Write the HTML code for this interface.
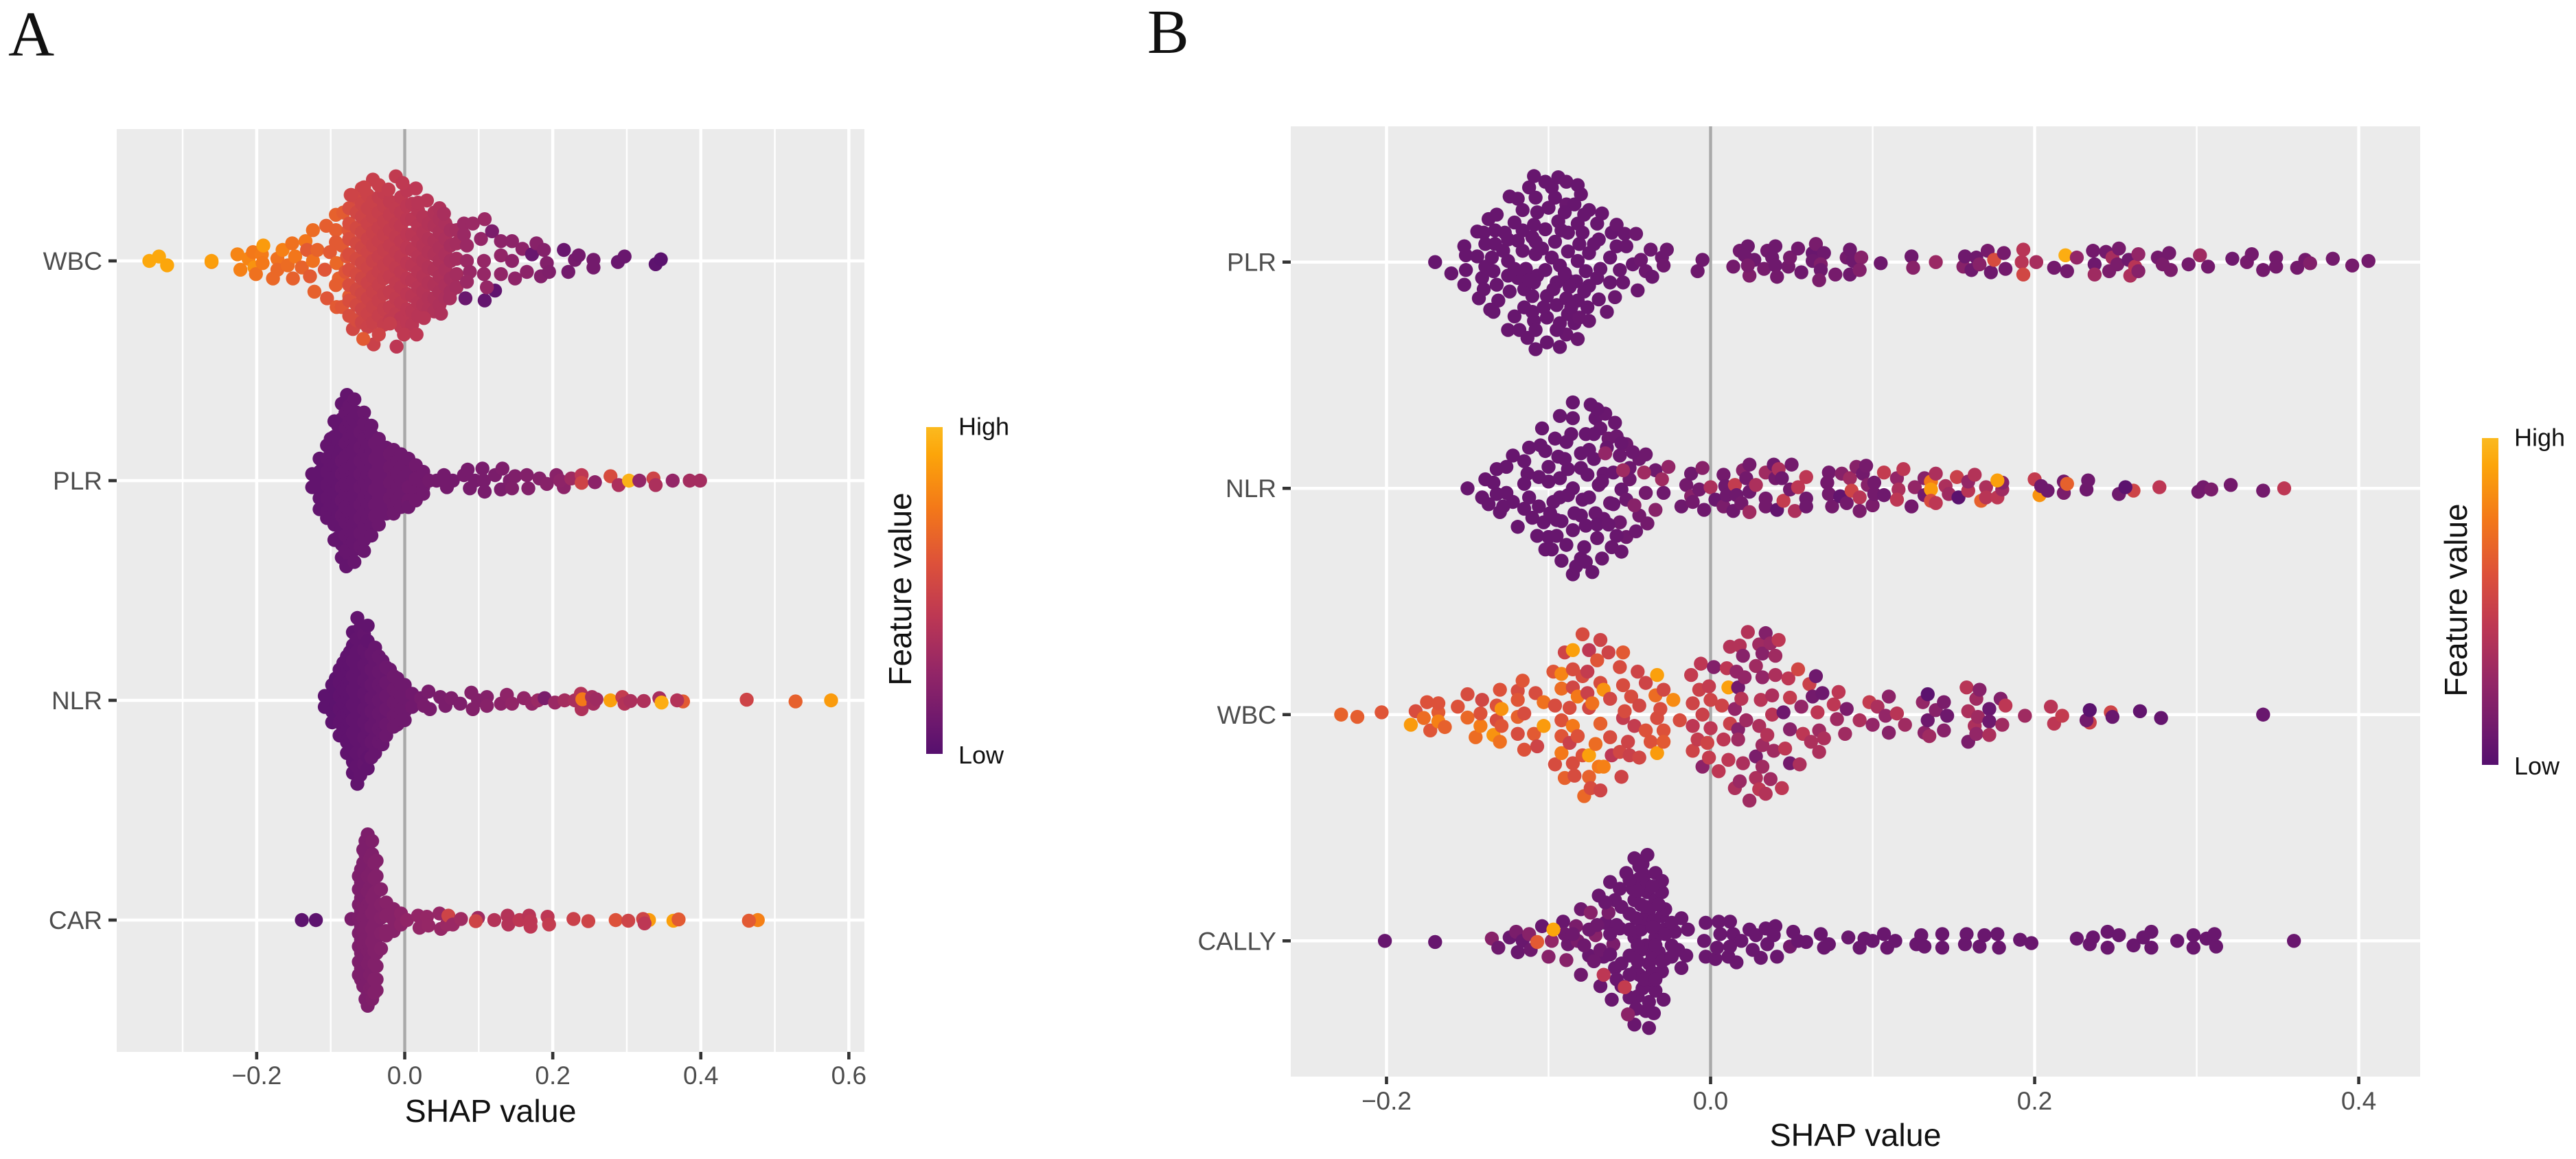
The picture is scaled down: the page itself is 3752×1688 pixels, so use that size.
<!DOCTYPE html>
<html lang="en">
<head>
<meta charset="utf-8">
<title>SHAP beeswarm panels A and B</title>
<style>
html,body{margin:0;padding:0;background:#fff;width:3752px;height:1688px;overflow:hidden}
svg{display:block}
text{font-family:"Liberation Sans",sans-serif}
</style>
</head>
<body>
<svg id="chart" xmlns="http://www.w3.org/2000/svg" width="3752" height="1688" viewBox="0 0 3752 1688">
<defs>
<linearGradient id="legend-gradient" x1="0" y1="1" x2="0" y2="0">
<stop offset="0" stop-color="#56106e"/>
<stop offset=".083" stop-color="#6a176e"/>
<stop offset=".25" stop-color="#932667"/>
<stop offset=".417" stop-color="#bc3754"/>
<stop offset=".583" stop-color="#dd513a"/>
<stop offset=".75" stop-color="#f37819"/>
<stop offset=".917" stop-color="#fca50a"/>
<stop offset="1" stop-color="#fbba1f"/>
</linearGradient>
</defs>
<text x="12" y="81" font-size="93" style="font-family:'Liberation Serif',serif" fill="#111">A</text>
<text x="1671" y="77" font-size="91" style="font-family:'Liberation Serif',serif" fill="#111">B</text>
</svg>
<script>
const panelAFeatures = ['WBC','PLR','NLR','CAR'];
const panelAMajorTicks = [-.2,0,.2,.4,.6];
const panelAMinorTicks = [-.3,-.1,.1,.3,.5];
const panelBFeatures = ['PLR','NLR','WBC','CALLY'];
const panelBMajorTicks = [-.2,0,.2,.4];
const panelBMinorTicks = [-.1,.1,.3];
const colorStops = [0,.083,.25,.417,.583,.75,.917,1];
const colorValues = [[86,16,110],[106,23,110],[147,38,103],[188,55,84],[221,81,58],[243,120,25],[252,165,10],[251,186,31]];

/* each point: [SHAP value, swarm jitter in row units, feature value 0-1] */
const aWbc = [
[-.345,0,.93],[-.332,.02,.93],[-.321,-.02,.92],[-.261,-.005,.84],[-.261,0,.89],[-.226,.03,.8],[-.222,-.04,.78],[-.211,.01,.8],[-.203,-.03,.85],[-.201,-.06,.72],[-.205,.04,.75],[-.193,.03,.76],[-.191,.07,.88],[-.192,-.01,.75],[-.172,.01,.72],[-.172,-.04,.68],[-.178,-.08,.68],[-.165,.05,.78],[-.158,-.02,.7],[-.151,-.08,.65],[-.152,.08,.72],[-.148,.02,.74],[-.139,-.03,.66],[-.134,.09,.74],[-.132,.05,.62],[-.128,-.07,.62],[-.124,0,.72],[-.124,.14,.7],[-.118,.05,.66],[-.122,-.14,.65],[-.108,-.04,.6],[-.106,.16,.64],[-.105,-.17,.6],[-.101,.04,.62],[-.093,.21,.65],[-.093,.14,.64],[-.092,-.01,.68],[-.093,.085,.62],[-.089,-.08,.65],[-.093,-.11,.64],[-.092,-.21,.62],[-.083,.22,.63],[-.085,-.21,.6],[-.085,.07,.62],[-.076,.14,.6],[-.075,-.16,.62],[-.073,.3,.52],[-.07,-.31,.52],[-.078,.02,.6],[-.08,-.05,.6],
[-.075,.24,.55],[-.075,.17,.56],[-.075,.1,.56],[-.075,.03,.56],[-.075,-.04,.56],[-.075,-.11,.56],[-.075,-.18,.56],[-.075,-.25,.55],
[-.065,.29,.52],[-.065,.22,.52],[-.065,.15,.53],[-.065,.08,.53],[-.065,.01,.54],[-.065,-.06,.54],[-.065,-.13,.53],[-.065,-.2,.53],[-.065,-.27,.55],
[-.058,.33,.5],[-.058,.26,.5],[-.058,.2,.5],[-.058,.13,.51],[-.058,.06,.51],[-.058,-.01,.51],[-.058,-.08,.51],[-.058,-.15,.51],[-.058,-.22,.5],[-.058,-.28,.5],
[-.05,.3,.49],[-.05,.24,.48],[-.05,.17,.49],[-.05,.1,.49],[-.05,.04,.5],[-.05,-.03,.5],[-.05,-.1,.49],[-.05,-.17,.49],[-.05,-.24,.49],[-.05,-.3,.49],
[-.043,.27,.48],[-.043,.2,.48],[-.043,.13,.48],[-.043,.07,.48],[-.043,0,.48],[-.043,-.07,.48],[-.043,-.14,.48],[-.043,-.21,.48],[-.043,-.28,.48],
[-.035,.29,.46],[-.035,.22,.47],[-.035,.15,.47],[-.035,.09,.47],[-.035,.02,.47],[-.035,-.05,.47],[-.035,-.11,.47],[-.035,-.18,.47],[-.035,-.25,.47],
[-.028,.31,.45],[-.028,.25,.46],[-.028,.18,.46],[-.028,.12,.46],[-.028,.05,.46],[-.028,-.02,.46],[-.028,-.08,.46],[-.028,-.15,.46],[-.028,-.22,.46],[-.028,-.29,.46],
[-.02,.27,.44],[-.02,.21,.45],[-.02,.14,.45],[-.02,.07,.45],[-.02,0,.45],[-.02,-.07,.45],[-.02,-.14,.45],[-.02,-.21,.45],[-.02,-.27,.44],
[-.012,.24,.44],[-.012,.17,.44],[-.012,.11,.44],[-.012,.04,.44],[-.012,-.03,.44],[-.012,-.1,.44],[-.012,-.17,.44],[-.012,-.24,.44],
[-.005,.29,.43],[-.005,.22,.43],[-.005,.16,.43],[-.005,.09,.43],[-.005,.02,.43],[-.005,-.05,.43],[-.005,-.12,.43],[-.005,-.19,.43],[-.005,-.26,.42],[-.005,-.3,.43],
[.003,.32,.42],[.003,.25,.42],[.003,.19,.42],[.003,.12,.42],[.003,.06,.42],[.003,-.01,.42],[.003,-.08,.42],[.003,-.15,.42],[.003,-.22,.42],[.003,-.28,.42],
[.01,.26,.41],[.01,.19,.41],[.01,.12,.41],[.01,.05,.41],[.01,-.02,.41],[.01,-.09,.41],[.01,-.16,.41],[.01,-.23,.41],[.01,-.29,.41],
[.018,.23,.4],[.018,.16,.4],[.018,.09,.4],[.018,.02,.4],[.018,-.05,.4],[.018,-.12,.4],[.018,-.19,.4],[.018,-.25,.4],
[.025,.2,.39],[.025,.13,.39],[.025,.07,.39],[.025,0,.39],[.025,-.07,.39],[.025,-.14,.39],[.025,-.2,.39],
[.032,.17,.38],[.032,.1,.38],[.032,.04,.38],[.032,-.03,.38],[.032,-.1,.38],[.032,-.17,.38],[.032,-.22,.38],
[.04,.22,.37],[.04,.16,.37],[.04,.09,.37],[.04,.03,.37],[.04,-.04,.37],[.04,-.11,.37],[.04,-.17,.37],[.04,-.23,.37],
[.047,.19,.36],[.047,.13,.36],[.047,.06,.36],[.047,0,.36],[.047,-.07,.36],[.047,-.14,.36],[.047,-.2,.36],
[.055,.17,.35],[.055,.1,.35],[.055,.03,.35],[.055,-.04,.35],[.055,-.11,.35],[.055,-.17,.35],
[.062,.14,.33],[.062,.07,.33],[.062,0,.33],[.062,-.08,.33],[.062,-.14,.33],
[.07,.14,.32],[.07,.08,.32],[.07,.01,.32],[.07,-.06,.32],[.07,-.12,.32],
[-.043,.37,.47],[-.012,.385,.44],[-.003,.355,.43],[-.035,.345,.47],[-.055,.335,.49],[.015,.33,.42],[-.072,.3,.5],[-.022,.325,.45],[-.011,-.39,.42],[-.042,-.38,.48],[-.056,-.355,.62],[-.035,-.335,.5],[-.001,-.335,.43],[.016,-.335,.42],[-.02,-.285,.46],[.026,-.26,.4],[.03,.275,.4],[.018,.265,.4],[.047,.24,.36],[.053,.215,.34],[.049,-.24,.36],[.061,-.17,.33],[.082,-.17,.08],[.108,-.18,.06],[.122,-.135,.04],
[.08,.17,.28],[.092,.17,.28],[.108,.19,.28],[.08,.12,.28],[.084,.07,.28],[.103,.1,.25],[.118,.135,.15],[.13,.09,.22],[.145,.09,.22],[.084,0,.28],[.088,-.05,.27],[.084,-.095,.28],[.107,0,.26],[.107,-.06,.26],[.111,-.12,.26],[.13,.025,.24],[.13,-.06,.24],[.145,0,.22],[.149,-.08,.23],[.159,.055,.22],[.165,-.05,.22],[.172,.03,.08],[.178,.08,.2],[.184,-.07,.18],[.188,.05,.19],[.192,-.01,.18],[.195,-.05,.17],[.215,.05,.08],[.221,-.05,.12],[.23,.005,.13],[.235,.025,.12],[.255,.005,.12],[.255,-.03,.12],[.288,-.005,.08],[.297,.02,.08],[.339,-.015,.03],[.346,.007,.02]
];
const aPlr = [
[-.125,.03,.05],[-.125,-.03,.05],
[-.115,.1,.05],[-.115,.04,.05],[-.115,-.02,.05],[-.115,-.08,.05],[-.115,-.13,.05],
[-.11,.07,.05],[-.11,.01,.05],[-.11,-.05,.05],[-.11,-.11,.05],
[-.105,.16,.06],[-.105,.1,.06],[-.105,.04,.06],[-.105,-.02,.06],[-.105,-.08,.06],[-.105,-.14,.06],[-.105,-.17,.06],
[-.1,.19,.06],[-.1,.13,.06],[-.1,.07,.06],[-.1,.01,.06],[-.1,-.05,.06],[-.1,-.11,.06],[-.1,-.17,.06],
[-.095,.27,.06],[-.095,.2,.06],[-.095,.13,.06],[-.095,.07,.06],[-.095,0,.06],[-.095,-.06,.06],[-.095,-.13,.06],[-.095,-.2,.06],[-.095,-.27,.06],
[-.09,.25,.06],[-.09,.18,.06],[-.09,.11,.06],[-.09,.05,.06],[-.09,-.02,.06],[-.09,-.08,.06],[-.09,-.15,.06],[-.09,-.2,.06],[-.09,-.26,.06],
[-.085,.35,.06],[-.085,.28,.06],[-.085,.22,.06],[-.085,.15,.06],[-.085,.09,.07],[-.085,.03,.07],[-.085,-.03,.07],[-.085,-.09,.07],[-.085,-.16,.07],[-.085,-.22,.06],[-.085,-.29,.06],[-.085,-.35,.06],
[-.08,.31,.07],[-.08,.24,.07],[-.08,.17,.07],[-.08,.11,.07],[-.08,.05,.07],[-.08,-.01,.07],[-.08,-.06,.07],[-.08,-.12,.07],[-.08,-.19,.07],[-.08,-.25,.07],[-.08,-.32,.07],
[-.078,.39,.06],[-.075,.34,.07],[-.075,.27,.07],[-.075,.2,.07],[-.075,.13,.07],[-.075,.06,.07],[-.075,-.01,.07],[-.075,-.07,.07],[-.075,-.14,.07],[-.075,-.21,.07],[-.075,-.27,.07],[-.075,-.34,.07],[-.079,-.39,.06],
[-.07,.28,.07],[-.07,.21,.07],[-.07,.14,.07],[-.07,.07,.07],[-.07,0,.07],[-.07,-.07,.07],[-.07,-.14,.07],[-.07,-.2,.07],[-.07,-.28,.07],
[-.068,.37,.07],[-.065,.31,.07],[-.065,.24,.07],[-.065,.17,.07],[-.065,.1,.07],[-.065,.04,.07],[-.065,-.04,.07],[-.065,-.1,.07],[-.065,-.17,.07],[-.065,-.24,.07],[-.065,-.31,.07],[-.068,-.37,.07],
[-.06,.22,.08],[-.06,.15,.08],[-.06,.09,.08],[-.06,.03,.08],[-.06,-.03,.08],[-.06,-.11,.08],[-.06,-.17,.08],[-.06,-.24,.08],[-.06,-.3,.08],
[-.055,.31,.08],[-.055,.26,.08],[-.055,.19,.08],[-.055,.12,.08],[-.055,.06,.08],[-.055,-.01,.08],[-.055,-.08,.08],[-.055,-.14,.08],[-.055,-.21,.08],[-.055,-.27,.08],[-.055,-.32,.08],
[-.05,.16,.08],[-.05,.1,.08],[-.05,.03,.08],[-.05,-.04,.08],[-.05,-.11,.08],[-.05,-.17,.08],
[-.045,.25,.08],[-.045,.21,.08],[-.045,.14,.08],[-.045,.07,.08],[-.045,0,.08],[-.045,-.07,.08],[-.045,-.13,.08],[-.045,-.2,.08],[-.045,-.25,.08],
[-.04,.17,.09],[-.04,.1,.09],[-.04,.03,.09],[-.04,-.04,.09],[-.04,-.11,.09],[-.04,-.16,.09],
[-.035,.19,.09],[-.035,.13,.09],[-.035,.06,.09],[-.035,-.01,.09],[-.035,-.08,.09],[-.035,-.15,.09],[-.035,-.2,.09],
[-.025,.15,.09],[-.025,.1,.09],[-.025,.03,.09],[-.025,-.04,.09],[-.025,-.1,.09],[-.025,-.15,.09],
[-.02,.12,.1],[-.02,.06,.1],[-.02,-.01,.1],[-.02,-.08,.1],
[-.015,.14,.1],[-.015,.08,.1],[-.015,.02,.1],[-.015,-.05,.1],[-.015,-.11,.1],[-.015,-.15,.1],
[-.01,.09,.1],[-.01,.03,.1],[-.01,-.03,.1],[-.01,-.09,.1],
[-.005,.12,.1],[-.005,.06,.1],[-.005,0,.1],[-.005,-.06,.1],[-.005,-.12,.1],
[0,.07,.1],[0,.02,.1],[0,-.04,.1],[0,-.09,.1],
[.005,.1,.1],[.005,.04,.1],[.005,-.03,.11],[.005,-.09,.11],[.005,-.12,.1],
[.015,.07,.11],[.015,.01,.11],[.015,-.05,.11],[.015,-.09,.11],
[.025,.04,.11],[.025,-.03,.11],[.025,-.06,.11],[.033,0,.12],
[.043,0,.12],[.053,.025,.12],[.057,-.03,.12],[.065,0,.12],[.08,.025,.13],[.085,.05,.13],[.088,-.035,.13],[.095,0,.13],[.105,.055,.14],[.107,0,.14],[.108,-.05,.14],[.122,.025,.15],[.132,.055,.16],[.13,-.04,.15],[.142,0,.16],[.149,.02,.17],[.145,-.035,.17],[.165,.025,.18],[.167,-.035,.18],[.182,.01,.19],[.192,-.015,.2],[.205,.025,.21],[.215,-.03,.22],[.21,0,.23],[.225,.01,.3],[.239,.025,.42],[.239,-.01,.5],[.257,-.007,.22],[.278,.02,.55],[.289,-.02,.35],[.303,0,.97],[.317,0,.25],[.336,.01,.5],[.339,-.02,.35],[.362,0,.25],[.385,0,.32],[.399,0,.32]
];
const aNlr = [
[-.108,.02,.03],[-.108,-.03,.03],
[-.098,.07,.03],[-.098,.01,.03],[-.098,-.05,.03],[-.098,-.1,.03],
[-.093,.1,.03],[-.093,.04,.03],[-.093,-.02,.03],[-.093,-.07,.03],
[-.088,.14,.04],[-.088,.08,.04],[-.088,.02,.04],[-.088,-.04,.04],[-.088,-.1,.04],[-.088,-.16,.04],
[-.083,.17,.04],[-.083,.11,.04],[-.083,.05,.04],[-.083,-.01,.04],[-.083,-.07,.04],[-.083,-.13,.04],
[-.078,.2,.04],[-.078,.14,.04],[-.078,.07,.04],[-.078,.01,.04],[-.078,-.06,.04],[-.078,-.12,.04],[-.078,-.19,.04],[-.078,-.24,.04],
[-.074,.22,.04],[-.074,.16,.04],[-.074,.09,.04],[-.074,.03,.04],[-.074,-.04,.04],[-.074,-.1,.04],[-.074,-.17,.04],[-.074,-.22,.04],
[-.07,.31,.04],[-.07,.25,.04],[-.07,.18,.05],[-.07,.11,.05],[-.07,.05,.05],[-.07,-.02,.05],[-.07,-.09,.05],[-.07,-.15,.05],[-.07,-.22,.04],[-.07,-.28,.04],[-.07,-.33,.04],
[-.065,.28,.05],[-.065,.22,.05],[-.065,.15,.05],[-.065,.08,.05],[-.065,.02,.05],[-.065,-.04,.05],[-.065,-.11,.05],[-.065,-.18,.05],[-.065,-.24,.05],[-.065,-.3,.05],
[-.064,.375,.05],[-.06,.33,.05],[-.06,.26,.05],[-.06,.19,.05],[-.06,.12,.05],[-.06,.06,.05],[-.06,-.01,.05],[-.06,-.07,.05],[-.06,-.14,.05],[-.06,-.21,.05],[-.06,-.27,.05],[-.06,-.34,.05],[-.064,-.38,.05],
[-.055,.3,.06],[-.055,.23,.06],[-.055,.16,.06],[-.055,.09,.06],[-.055,.03,.06],[-.055,-.04,.06],[-.055,-.1,.06],[-.055,-.17,.06],[-.055,-.24,.06],[-.055,-.29,.06],
[-.05,.34,.05],[-.05,.27,.05],[-.05,.2,.06],[-.05,.13,.06],[-.05,.07,.06],[-.05,0,.06],[-.05,-.06,.06],[-.05,-.13,.06],[-.05,-.2,.06],[-.05,-.26,.05],[-.05,-.31,.05],
[-.045,.21,.07],[-.045,.14,.07],[-.045,.07,.07],[-.045,.01,.07],[-.045,-.05,.07],[-.045,-.12,.07],[-.045,-.19,.07],[-.045,-.26,.07],
[-.04,.24,.07],[-.04,.17,.07],[-.04,.1,.07],[-.04,.04,.07],[-.04,-.03,.07],[-.04,-.1,.07],[-.04,-.17,.07],[-.04,-.24,.07],
[-.035,.2,.08],[-.035,.13,.08],[-.035,.07,.08],[-.035,0,.08],[-.035,-.06,.08],[-.035,-.13,.08],[-.035,-.19,.08],
[-.03,.18,.08],[-.03,.11,.08],[-.03,.05,.08],[-.03,-.02,.08],[-.03,-.09,.08],[-.03,-.15,.08],[-.03,-.2,.08],
[-.025,.15,.09],[-.025,.08,.09],[-.025,.02,.09],[-.025,-.04,.09],[-.025,-.11,.09],[-.025,-.16,.09],
[-.02,.14,.09],[-.02,.08,.09],[-.02,.01,.09],[-.02,-.05,.09],[-.02,-.12,.09],
[-.015,.11,.1],[-.015,.05,.1],[-.015,-.01,.1],[-.015,-.07,.1],[-.015,-.12,.1],
[-.01,.1,.1],[-.01,.04,.1],[-.01,-.02,.1],[-.01,-.08,.1],[-.01,-.11,.1],
[-.005,.07,.1],[-.005,.02,.1],[-.005,-.04,.1],[-.005,-.09,.1],
[0,.07,.1],[0,.01,.1],[0,-.05,.1],[0,-.09,.1],
[.01,.03,.11],[.01,-.03,.11],
[.022,.01,.13],[.032,.04,.14],[.034,-.04,.14],[.026,-.025,.14],[.048,.015,.15],[.055,-.025,.15],[.063,.01,.16],[.075,-.015,.16],[.09,.035,.18],[.092,-.04,.18],[.099,0,.18],[.111,.015,.19],[.111,-.025,.2],[.13,-.015,.22],[.138,.025,.23],[.145,-.015,.24],[.161,.01,.24],[.172,-.015,.25],[.18,0,.28],[.189,.01,.15],[.203,-.01,.28],[.216,0,.32],[.23,0,.34],[.238,.03,.38],[.239,-.04,.36],[.24,.005,.75],[.253,.015,.32],[.255,-.015,.32],[.259,.005,.3],[.278,0,.9],[.294,.015,.45],[.297,-.015,.38],[.305,-.003,.35],[.323,-.003,.36],[.344,.01,.33],[.347,-.01,.95],[.376,-.005,.62],[.368,0,.38],[.462,.003,.5],[.528,-.005,.65],[.576,0,.88]
];
const aCar = [
[-.139,0,.03],[-.12,0,.03],[-.072,.005,.15],
[-.062,.2,.16],[-.062,.14,.16],[-.062,.07,.16],[-.062,.01,.16],[-.062,-.06,.16],[-.062,-.12,.16],[-.062,-.19,.16],[-.062,-.25,.16],
[-.059,.23,.16],[-.059,.17,.16],[-.059,.1,.16],[-.059,.04,.16],[-.059,-.03,.16],[-.059,-.09,.16],[-.059,-.15,.16],[-.059,-.22,.16],[-.059,-.27,.16],
[-.056,.32,.16],[-.056,.26,.16],[-.056,.2,.16],[-.056,.13,.16],[-.056,.07,.17],[-.056,.01,.17],[-.056,-.05,.17],[-.056,-.11,.17],[-.056,-.18,.16],[-.056,-.24,.16],[-.056,-.3,.16],
[-.053,.36,.16],[-.053,.3,.16],[-.053,.23,.16],[-.053,.16,.16],[-.053,.1,.16],[-.053,.04,.17],[-.053,-.03,.17],[-.053,-.09,.17],[-.053,-.16,.16],[-.053,-.23,.16],[-.053,-.3,.16],[-.053,-.36,.16],
[-.05,.39,.16],[-.05,.33,.16],[-.05,.27,.16],[-.05,.2,.17],[-.05,.13,.17],[-.05,.07,.17],[-.05,0,.17],[-.05,-.07,.17],[-.05,-.14,.17],[-.05,-.2,.17],[-.05,-.27,.16],[-.05,-.33,.16],[-.05,-.39,.16],
[-.047,.28,.17],[-.047,.21,.17],[-.047,.15,.17],[-.047,.08,.17],[-.047,.02,.17],[-.047,-.05,.17],[-.047,-.12,.17],[-.047,-.18,.17],[-.047,-.25,.17],[-.047,-.31,.17],
[-.044,.36,.17],[-.044,.3,.17],[-.044,.23,.17],[-.044,.16,.17],[-.044,.1,.18],[-.044,.03,.18],[-.044,-.04,.18],[-.044,-.1,.18],[-.044,-.17,.17],[-.044,-.23,.17],[-.044,-.3,.17],[-.044,-.36,.17],
[-.041,.26,.18],[-.041,.19,.18],[-.041,.12,.18],[-.041,.05,.18],[-.041,-.02,.18],[-.041,-.07,.18],[-.041,-.14,.18],[-.041,-.2,.18],[-.041,-.27,.18],[-.041,-.33,.18],
[-.038,.27,.18],[-.038,.2,.18],[-.038,.13,.18],[-.038,.06,.18],[-.038,-.01,.18],[-.038,-.08,.18],[-.038,-.15,.18],[-.038,-.21,.18],[-.038,-.27,.18],[-.038,-.32,.18],
[-.032,.14,.19],[-.032,.07,.19],[-.032,.01,.19],[-.032,-.06,.19],[-.032,-.13,.19],
[-.025,.08,.2],[-.025,.02,.2],[-.025,-.05,.2],[-.025,-.07,.2],
[-.015,.05,.2],[-.015,0,.2],[-.015,-.05,.2],
[-.005,.03,.22],[-.005,-.02,.22],
[.003,0,.24],[.018,.02,.25],[.02,-.035,.25],[.03,.015,.26],[.032,-.025,.26],[.047,.03,.26],[.049,-.04,.26],[.057,-.02,.28],[.059,.02,.5],[.065,-.02,.28],[.076,.005,.3],[.099,.01,.3],[.096,-.005,.5],[.121,0,.38],[.139,.02,.38],[.14,-.02,.38],[.155,0,.42],[.168,.02,.4],[.17,-.005,.42],[.17,-.03,.42],[.193,.015,.42],[.195,-.02,.45],[.228,.005,.48],[.248,-.005,.5],[.285,0,.58],[.302,-.003,.5],[.33,0,.88],[.322,.005,.5],[.324,-.015,.42],[.363,-.003,.9],[.37,.003,.62],[.477,0,.78],[.465,-.003,.62]
];
const bPlr = [
[-.17,0,.07],[-.16,-.05,.07],[-.152,.07,.07],[-.151,.03,.07],[-.151,-.035,.07],[-.152,-.1,.07],[-.144,.025,.07],[-.143,-.16,.07],[-.144,.135,.07],[-.14,.13,.07],[-.141,-.07,.07],[-.139,.08,.07],[-.139,-.02,.07],[-.14,-.12,.07],[-.137,.19,.07],[-.136,-.21,.07],[-.132,.21,.07],[-.133,.14,.07],[-.133,.08,.07],[-.135,.02,.07],[-.134,-.04,.07],[-.132,-.1,.07],[-.131,-.17,.07],[-.134,-.22,.07],[-.127,.13,.07],[-.124,.29,.07],[-.125,.005,.07],[-.124,-.13,.07],[-.125,-.3,.07],[-.121,.175,.07],[-.119,.095,.07],[-.119,-.07,.07],[-.121,-.24,.07],[-.119,.28,.07],[-.118,-.3,.07],[-.116,.23,.07],[-.114,-.03,.07],[-.115,-.12,.07],[-.115,-.2,.07],[-.113,-.335,.07],[-.112,.33,.07],[-.109,.38,.07],[-.109,.165,.07],[-.108,.09,.07],[-.108,.035,.07],[-.109,-.09,.07],[-.11,-.15,.07],[-.109,-.26,.07],[-.108,-.3,.07],[-.108,-.385,.07],[-.108,.285,.07],[-.107,.22,.07],[-.102,.355,.07],[-.102,.145,.07],[-.102,-.035,.07],[-.101,-.15,.07],[-.101,-.245,.07],[-.101,-.355,.07],[-.1,.24,.07],[-.094,.375,.07],[-.094,.18,.07],[-.093,-.015,.07],[-.095,-.09,.07],[-.095,-.19,.07],[-.093,-.27,.07],[-.093,-.375,.07],[-.096,.09,.07],[-.096,.285,.07],[-.098,.33,.07],[-.089,.355,.08],[-.089,.255,.08],[-.088,.13,.07],[-.088,.047,.07],[-.088,-.08,.07],[-.089,-.16,.07],[-.088,-.23,.07],[-.089,-.32,.08],[-.082,.34,.07],[-.082,.17,.07],[-.081,.08,.07],[-.082,.005,.07],[-.082,-.17,.07],[-.082,-.34,.08],[-.084,.255,.07],[-.083,-.085,.07],[-.084,-.27,.07],[-.081,-.245,.08],[-.075,.23,.07],[-.075,.04,.07],[-.075,-.105,.07],[-.075,-.26,.08],[-.069,.1,.07],[-.07,.17,.07],[-.069,-.165,.07],[-.067,.215,.07],[-.068,-.03,.07],[-.064,-.22,.08],[-.062,.02,.07],[-.061,.13,.07],[-.062,-.09,.07],[-.059,-.155,.08],[-.058,.165,.08],[-.058,.07,.08],[-.056,-.035,.08],[-.053,.125,.08],[-.052,.07,.08],[-.054,-.09,.08],[-.046,.125,.09],[-.045,-.125,.08],[-.048,-.01,.08],[-.043,.01,.09],[-.04,-.04,.09],[-.037,.055,.09],[-.036,-.065,.08],[-.03,.02,.09],[-.029,-.015,.1],[-.027,.055,.09],[-.008,-.04,.1],[-.005,.01,.1],
[-.125,.1,.07],[-.128,.05,.07],[-.121,-.03,.07],[-.116,.05,.07],[-.11,.11,.07],[-.107,-.06,.07],[-.104,.06,.07],[-.103,-.2,.07],[-.098,.02,.07],[-.097,-.12,.07],[-.092,.14,.07],[-.09,.22,.07],[-.09,-.05,.07],[-.087,-.11,.07],[-.086,-.2,.07],[-.079,.13,.07],[-.078,.21,.07],[-.077,-.04,.07],[-.078,-.13,.07],[-.076,-.2,.07],[-.072,.08,.07],[-.07,-.07,.07],[-.116,.14,.07],[-.11,-.22,.07],[-.08,.3,.07],[-.095,-.3,.07],[-.125,-.06,.07],[-.112,-.08,.07],
[.014,-.02,.12],[.018,.05,.11],[.023,.07,.1],[.021,.03,.1],[.024,-.06,.17],[.027,.01,.1],[.023,-.015,.15],[.033,-.03,.13],[.035,.05,.11],[.04,.07,.1],[.038,.02,.1],[.04,-.015,.1],[.041,-.065,.12],[.048,-.02,.12],[.049,.02,.13],[.054,.06,.11],[.056,-.045,.1],[.063,.04,.08],[.065,.08,.14],[.063,.005,.1],[.07,.04,.1],[.068,-.01,.17],[.068,-.035,.1],[.067,-.08,.15],[.077,-.055,.13],[.084,.02,.12],[.086,.055,.1],[.088,.005,.1],[.086,-.055,.1],[.093,.02,.2],[.092,-.035,.18],[.105,-.005,.1],[.124,.025,.1],[.125,-.025,.2],[.139,0,.28],[.156,-.02,.2],[.157,.025,.1],[.161,-.035,.1],[.164,.02,.1],[.166,-.01,.2],[.171,.05,.13],[.173,-.045,.1],[.175,.01,.55],[.181,.04,.13],[.182,-.03,.12],[.192,0,.4],[.193,.055,.4],[.193,-.055,.52],[.201,0,.33],[.212,-.025,.12],[.219,.03,.95],[.22,-.04,.12],[.226,.02,.25],[.236,.05,.12],[.237,-.01,.1],[.237,-.055,.3],[.244,.045,.12],[.246,-.04,.15],[.248,.02,.33],[.252,.06,.13],[.251,-.01,.15],[.258,.01,.1],[.259,-.06,.35],[.262,-.02,.4],[.264,.035,.25],[.264,-.04,.2],[.276,.02,.12],[.279,-.01,.15],[.283,.04,.12],[.284,-.035,.15],[.295,-.01,.12],[.302,.03,.3],[.307,-.02,.12],[.322,.015,.1],[.331,0,.13],[.334,.035,.12],[.341,-.035,.12],[.349,.02,.12],[.349,-.02,.12],[.362,-.025,.12],[.367,.01,.12],[.37,-.005,.18],[.384,.015,.12],[.396,-.015,.13],[.406,.005,.12]
];
const bNlr = [
[-.15,0,.07],[-.141,-.04,.07],[-.139,.04,.07],[-.137,-.07,.07],[-.132,-.025,.07],[-.132,.085,.07],[-.134,.025,.07],[-.13,-.105,.07],[-.128,-.08,.07],[-.126,.095,.07],[-.126,-.02,.07],[-.122,.145,.07],[-.119,-.17,.07],[-.115,.12,.07],[-.115,-.09,.07],[-.113,.065,.07],[-.112,.18,.07],[-.112,-.04,.07],[-.107,-.21,.07],[-.106,.05,.07],[-.106,-.08,.07],[-.105,.19,.07],[-.104,.265,.07],[-.103,-.15,.07],[-.102,.165,.07],[-.102,-.27,.07],[-.1,-.215,.07],[-.1,.095,.07],[-.099,-.11,.07],[-.098,-.27,.07],[-.096,.22,.07],[-.094,.14,.07],[-.095,-.21,.07],[-.093,.045,.07],[-.093,-.04,.07],[-.092,-.145,.07],[-.092,-.32,.07],[-.093,.32,.07],[-.089,.205,.07],[-.088,.085,.07],[-.089,-.25,.07],[-.085,.38,.07],[-.085,.31,.07],[-.085,0,.07],[-.084,-.11,.07],[-.085,-.185,.07],[-.085,-.38,.07],[-.083,-.345,.07],[-.08,.155,.07],[-.079,-.05,.07],[-.078,-.26,.07],[-.077,.24,.07],[-.076,.06,.07],[-.077,-.165,.07],[-.077,-.325,.07],[-.074,.37,.07],[-.073,-.37,.07],[-.072,.13,.07],[-.071,.31,.07],[-.071,-.11,.08],[-.07,-.22,.08],[-.069,.015,.08],[-.068,.265,.08],[-.067,-.31,.08],[-.066,.065,.08],[-.065,.33,.08],[-.066,-.135,.08],[-.063,.22,.1],[-.062,-.065,.09],[-.061,-.26,.08],[-.059,.29,.08],[-.058,.23,.09],[-.056,.145,.09],[-.055,-.005,.08],[-.056,-.15,.1],[-.055,-.28,.08],[-.052,.195,.1],[-.052,-.215,.1],[-.05,.04,.1],[-.044,.13,.1],[-.044,-.12,.12],[-.04,.15,.1],[-.04,-.02,.12],[-.039,-.155,.12],[-.034,.08,.1],[-.029,-.02,.1],
[-.1,.03,.07],[-.097,-.06,.07],[-.09,.13,.07],[-.088,-.03,.07],[-.086,.24,.07],[-.08,.09,.07],[-.08,-.12,.07],[-.075,-.04,.07],[-.075,.17,.07],[-.072,.24,.07],[-.07,-.16,.07],[-.067,.03,.08],[-.064,.18,.08],[-.063,-.16,.08],[-.06,.07,.08],[-.06,-.07,.08],[-.058,-.21,.08],[-.055,.2,.08],[-.052,-.05,.09],[-.05,.09,.09],[-.115,.02,.07],[-.11,-.13,.07],[-.122,-.06,.07],[-.095,-.14,.07],[-.07,.35,.07],[-.08,-.31,.07],[-.048,.16,.09],[-.046,-.19,.09],
[-.065,.155,.25],[-.054,.08,.3],[-.047,-.075,.2],[-.041,.07,.3],[-.034,-.095,.2],[-.03,.04,.3],[-.026,.095,.25],
[-.018,-.08,.1],[-.015,.015,.12],[-.012,.065,.1],[-.012,-.035,.2],[-.007,-.005,.12],[-.011,-.06,.12],[-.005,.09,.2],[-.004,-.095,.1],[0,.005,.35],[.003,-.05,.08],[.008,.06,.12],[.009,.01,.1],[.008,-.08,.15],[.01,-.03,.1],[.014,-.1,.1],[.015,.015,.45],[.016,-.03,.1],[.02,.08,.2],[.022,.045,.12],[.019,-.065,.12],[.024,.105,.12],[.024,-.015,.1],[.024,-.105,.3],[.028,.015,.35],[.034,.07,.3],[.034,-.045,.12],[.034,-.08,.12],[.039,.105,.1],[.041,-.095,.05],[.04,.045,.12],[.042,.085,.35],[.044,.045,.1],[.045,-.055,.45],[.049,-.005,.12],[.05,.105,.12],[.052,-.1,.35],[.054,.005,.42],[.059,-.045,.1],[.059,-.08,.1],[.059,.05,.42],[.073,.07,.12],[.072,.025,.12],[.073,-.025,.12],[.075,-.08,.12],[.08,-.035,.05],[.081,.065,.2],[.084,-.065,.12],[.086,.045,.3],[.087,-.01,.5],[.09,.095,.2],[.092,-.04,.4],[.092,-.1,.15],[.094,.065,.12],[.097,.015,.2],[.096,.1,.13],[.1,-.075,.15],[.101,.025,.12],[.101,-.025,.12],[.107,-.03,.1],[.107,.07,.45],[.115,.045,.25],[.116,-.005,.35],[.115,-.05,.42],[.119,.085,.42],[.124,-.08,.12],[.126,.005,.25],[.132,.045,.2],[.132,-.03,.12],[.136,.03,.75],[.136,-.005,.88],[.136,-.055,.55],[.139,.065,.35],[.139,-.065,.42],[.145,.01,.35],[.147,-.025,.3],[.152,.05,.48],[.153,-.04,.02],[.159,-.01,.4],[.159,.03,.25],[.163,.06,.38],[.167,-.055,.65],[.17,.005,.35],[.17,-.04,.4],[.177,-.04,.42],[.18,-.005,.3],[.18,.025,.2],[.177,.035,.9],[.2,.04,.45],[.203,-.03,.85],[.204,.01,.1],[.208,-.01,.1],[.218,.03,.12],[.218,-.02,.15],[.22,.02,.65],[.232,-.005,.1],[.233,.035,.1],[.252,-.025,.1],[.261,-.01,.5],[.256,.005,.02],[.277,.005,.42],[.301,-.015,.12],[.304,.005,.12],[.309,-.005,.15],[.321,.015,.12],[.341,-.01,.12],[.354,0,.42]
];
const bWbc = [
[-.228,0,.66],[-.218,-.01,.64],[-.203,.01,.6],[-.185,-.045,.88],[-.182,.015,.56],[-.177,-.015,.7],[-.175,.055,.58],[-.173,-.07,.6],[-.168,.01,.62],[-.168,.05,.58],[-.168,-.03,.78],[-.164,-.055,.65],[-.156,.035,.58],[-.15,.09,.55],[-.15,-.013,.68],[-.145,-.1,.7],[-.142,-.05,.76],[-.142,.005,.58],[-.141,.065,.52],[-.134,-.09,.85],[-.132,.04,.58],[-.132,-.025,.55],[-.13,.11,.58],[-.129,.025,.85],[-.129,-.05,.6],[-.13,-.12,.72],[-.119,.105,.55],[-.119,.065,.6],[-.119,-.01,.65],[-.119,-.085,.55],[-.116,.15,.6],[-.115,-.155,.58],[-.115,.005,.55],[-.109,-.085,.62],[-.108,.095,.55],[-.107,-.14,.5],[-.103,.055,.72],[-.103,-.05,.88],[-.097,.19,.6],[-.096,.04,.55],[-.096,-.22,.55],[-.092,.18,.8],[-.092,.115,.7],[-.092,-.025,.58],[-.092,-.095,.6],[-.092,-.17,.75],[-.09,-.28,.65],[-.09,.275,.5],[-.087,.03,.55],[-.087,-.125,.48],[-.085,.2,.55],[-.085,.285,.9],[-.085,.12,.52],[-.085,-.05,.75],[-.085,-.215,.55],[-.084,-.27,.55],[-.082,.08,.75],[-.082,-.095,.58],[-.079,.355,.55],[-.079,.17,.55],[-.079,-.18,.58],[-.078,-.36,.68],[-.076,.19,.45],[-.076,.095,.48],[-.075,.03,.52],[-.075,-.275,.65],[-.075,.285,.42],[-.075,-.18,.9],[-.074,-.325,.55],[-.073,.05,.72],[-.071,-.13,.7],[-.07,.24,.6],[-.069,-.23,.75],[-.068,.33,.5],[-.068,-.04,.65],[-.068,.14,.55],[-.068,-.335,.5],[-.066,.11,.85],[-.066,-.23,.78],[-.063,.275,.5],[-.062,.07,.52],[-.062,-.1,.55],[-.061,-.18,.42],[-.056,.21,.55],[-.056,-.165,.52],[-.055,-.275,.5],[-.054,.275,.62],[-.054,-.015,.45],[-.054,.13,.55],[-.053,.015,.55],[-.051,-.12,.5],[-.049,.08,.55],[-.05,-.18,.48],[-.047,-.05,.45],[-.045,.19,.5],[-.044,.04,.52],[-.044,-.19,.52],[-.04,.14,.5],[-.04,-.07,.58],[-.037,-.12,.58],[-.034,.085,.7],[-.033,.175,.9],[-.033,-.015,.55],[-.033,-.17,.88],[-.031,.025,.55],[-.029,.11,.52],[-.029,-.07,.58],[-.029,-.12,.62],[-.023,.065,.82],[-.019,-.025,.55],
[-.012,.175,.45],[-.011,.05,.5],[-.011,-.05,.42],[-.011,-.16,.5],[-.008,-.11,.45],[-.007,.11,.48],[-.006,.225,.42],[-.005,0,.48],[-.005,-.23,.22],[-.002,-.125,.5],[-.001,.125,.45],[0,-.06,.42],[0,.065,.5],[-.001,-.19,.45],[.002,.21,.18],[.005,-.25,.42],[.007,.04,.5],[.008,-.11,.42],[.01,.205,.42],[.011,.12,.9],[.012,-.04,.48],[.012,.3,.38],[.011,-.2,.42],[.016,.19,.25],[.017,.12,.12],[.015,.025,.25],[.017,-.065,.2],[.017,-.11,.3],[.018,.305,.38],[.015,-.325,.35],[.019,.07,.4],[.02,.26,.2],[.021,.165,.25],[.02,-.215,.35],[.018,-.295,.28],[.023,.365,.38],[.022,-.025,.3],[.024,-.38,.3],[.028,.215,.3],[.028,-.185,.15],[.028,-.28,.35],[.03,.31,.3],[.03,-.05,.35],[.031,.065,.4],[.032,.165,.25],[.032,.27,.2],[.032,-.135,.3],[.032,-.23,.3],[.03,-.33,.42],[.034,.36,.18],[.035,-.09,.38],[.038,.085,.35],[.037,.315,.28],[.037,-.285,.3],[.038,0,.4],[.034,-.35,.38],[.04,.26,.3],[.04,.175,.35],[.039,-.16,.3],[.042,.33,.42],[.044,-.325,.42],[.045,.01,.1],[.046,-.15,.42],[.048,.16,.42],[.049,-.065,.2],[.049,-.215,.12],[.049,.075,.45],[.054,.2,.52],[.055,-.22,.35],[.056,.035,.25],[.057,-.085,.42],[.061,.135,.48],[.062,-.12,.35],[.063,.08,.12],[.065,.17,.1],[.066,.01,.42],[.067,-.165,.35],[.067,-.07,.3],[.069,.095,.1],[.07,-.105,.35],[.076,.045,.42],[.078,-.02,.3],[.079,.1,.42],[.083,-.085,.3],[.084,.025,.15],[.092,-.025,.35],[.098,.055,.45],[.1,-.045,.25],[.103,.035,.35],[.108,-.005,.25],[.11,.08,.22],[.11,-.08,.2],[.115,.005,.4],[.12,-.045,.3],[.131,.055,.25],[.132,-.08,.22],[.134,.09,.02],[.134,-.025,.1],[.135,-.095,.3],[.139,.02,.2],[.144,.055,.15],[.146,-.005,.1],[.144,-.07,.2],[.158,.12,.4],[.159,.015,.35],[.159,-.12,.15],[.163,-.05,.35],[.164,.07,.3],[.166,.11,.2],[.165,-.01,.3],[.164,-.085,.25],[.172,.025,.08],[.172,-.03,.1],[.172,-.09,.35],[.179,.07,.18],[.18,-.045,.3],[.182,.04,.42],[.194,-.005,.3],[.21,.035,.4],[.212,-.04,.42],[.217,-.005,.45],[.234,-.035,.48],[.232,-.025,.12],[.234,.02,.02],[.247,.01,.5],[.248,-.01,.08],[.265,.015,.05],[.278,-.015,.06],[.341,0,.08]
];
const bCally = [
[-.201,0,.07],[-.17,-.005,.07],[-.135,.01,.2],[-.131,-.03,.1],[-.124,.015,.08],[-.12,.04,.15],[-.119,-.05,.08],[-.116,0,.08],[-.112,.03,.2],[-.111,-.04,.1],[-.104,.065,.08],[-.1,-.07,.2],[-.098,0,.25],[-.091,.085,.08],[-.089,-.085,.2],[-.088,-.015,.1],[-.083,.065,.15],[-.082,0,.15],[-.08,.14,.1],[-.08,-.15,.1],[-.075,-.065,.08],[-.074,.125,.2],[-.071,.025,.2],[-.069,.2,.08],[-.068,-.2,.08],[-.066,-.07,.08],[-.065,.08,.08],[-.063,.125,.15],[-.062,.26,.08],[-.061,-.26,.08],[-.06,-.015,.15],[-.059,.18,.08],[-.059,-.12,.08],[-.056,.23,.08],[-.056,.055,.08],[-.055,-.2,.08],[-.052,.3,.08],[-.05,-.065,.08],[-.05,.12,.08],[-.047,.365,.08],[-.047,-.37,.08],[-.047,.18,.08],[-.047,.015,.08],[-.046,-.135,.08],[-.045,-.245,.08],[-.044,.275,.08],[-.043,-.04,.08],[-.042,.08,.08],[-.042,.34,.08],[-.04,-.31,.08],[-.039,.38,.08],[-.038,-.385,.08],[-.039,.215,.08],[-.038,.135,.08],[-.038,-.1,.08],[-.037,-.175,.08],[-.035,-.32,.08],[-.034,.3,.08],[-.034,.18,.08],[-.034,.015,.08],[-.032,-.05,.08],[-.034,-.22,.08],[-.03,.215,.08],[-.03,.11,.08],[-.03,.265,.08],[-.029,-.26,.08],[-.03,-.135,.08],[-.029,.05,.08],[-.028,-.08,.08],[-.028,.14,.08],[-.043,.05,.08],[-.04,-.02,.08],[-.041,.1,.08],[-.036,-.06,.08],[-.044,-.15,.08],[-.042,-.21,.08],[-.048,.23,.08],[-.04,.25,.08],[-.036,-.14,.08],[-.035,.09,.08],[-.022,.04,.08],[-.018,.1,.08],[-.018,-.12,.08],[-.02,-.04,.08],[-.014,.05,.08],[-.015,-.065,.08],
[-.05,.27,.08],[-.045,.22,.08],[-.043,.16,.08],[-.041,.29,.08],[-.036,.24,.08],[-.032,.16,.08],[-.05,.05,.08],[-.046,.1,.08],[-.04,.15,.08],[-.036,.06,.08],[-.045,-.02,.08],[-.034,-.02,.08],[-.03,-.09,.08],[-.045,-.09,.08],[-.05,-.15,.08],[-.041,-.17,.08],[-.034,-.17,.08],[-.05,-.25,.08],[-.038,-.27,.08],[-.055,-.1,.08],[-.058,.07,.08],[-.062,.03,.08],[-.07,.07,.1],[-.068,-.04,.1],[-.062,-.06,.08],[-.055,.15,.08],[-.065,.17,.08],[-.058,-.17,.08],[-.075,.05,.1],[-.078,-.02,.1],[-.072,-.09,.1],[-.09,.03,.1],[-.085,.03,.1],[-.028,.03,.08],[-.024,-.02,.08],[-.024,.08,.08],[-.024,-.07,.08],[-.046,-.3,.08],[-.044,.33,.08],
[-.107,-.005,.62],[-.097,.05,.92],[-.066,-.15,.42],[-.053,-.205,.45],[-.051,-.325,.22],
[-.003,.08,.08],[-.003,-.07,.08],[-.004,0,.08],[.005,.085,.08],[.003,-.08,.08],[.006,.03,.08],[.004,-.03,.08],[.012,.085,.08],[.011,-.07,.08],[.014,.03,.08],[.016,-.095,.08],[.012,-.025,.08],[.019,0,.08],[.024,.05,.08],[.026,-.04,.08],[.031,-.075,.08],[.028,.025,.08],[.034,.055,.08],[.035,-.015,.08],[.04,.065,.08],[.041,-.07,.08],[.039,.025,.08],[.049,-.025,.12],[.051,.04,.08],[.054,0,.08],[.059,-.005,.08],[.068,.03,.08],[.073,-.015,.08],[.07,-.03,.08],[.085,.015,.08],[.092,-.03,.08],[.095,.01,.08],[.1,0,.08],[.107,.03,.08],[.109,-.03,.08],[.114,0,.08],[.127,-.015,.08],[.13,.025,.08],[.132,-.025,.08],[.143,.03,.08],[.143,-.03,.08],[.158,.03,.08],[.157,-.015,.08],[.166,-.025,.08],[.169,.025,.08],[.177,.03,.08],[.178,-.03,.08],[.191,.005,.08],[.198,-.01,.08],[.226,.01,.08],[.234,-.015,.08],[.236,.015,.08],[.245,.04,.08],[.245,-.03,.08],[.252,.025,.08],[.261,-.02,.08],[.267,.015,.08],[.272,.04,.08],[.272,-.03,.08],[.288,0,.08],[.298,.025,.08],[.298,-.03,.08],[.306,.01,.08],[.311,.03,.08],[.312,-.025,.08],[.36,0,.08]
];
const panelARows = [aWbc,aPlr,aNlr,aCar];
const panelBRows = [bPlr,bNlr,bWbc,bCally];

const NS = 'http://www.w3.org/2000/svg';
const root = document.getElementById('chart');
function make(parent, tag, attrs, txt) {
  const el = document.createElementNS(NS, tag);
  for (const k in attrs) el.setAttribute(k, attrs[k]);
  if (txt !== undefined) el.textContent = txt;
  parent.appendChild(el);
  return el;
}
function featureColor(t) {
  const v = Math.max(0, Math.min(1, t));
  let i = 0;
  while (i < colorStops.length - 2 && v > colorStops[i + 1]) i++;
  const f = (v - colorStops[i]) / (colorStops[i + 1] - colorStops[i]);
  const a = colorValues[i], b = colorValues[i + 1];
  return 'rgb(' + [0,1,2].map(k => Math.round(a[k] + (b[k] - a[k]) * f)).join(',') + ')';
}
function tickText(v) {
  return (v < 0 ? '\u2212' : '') + Math.abs(v).toFixed(1);
}
function drawPanel(cfg, features, rows, major, minor) {
  const g = make(root, 'g', {});
  
  
  const xScale = s => cfg.left + (s - cfg.domain[0]) / (cfg.domain[1] - cfg.domain[0]) * (cfg.right - cfg.left);
  const band = (cfg.bottom - cfg.top) / (features.length - 1 + 1.2);
  const yScale = i => cfg.top + .6 * band + i * band;

  const bg = make(g, 'rect', {x: cfg.left, y: cfg.top, width: cfg.right - cfg.left, height: cfg.bottom - cfg.top, fill: '#ebebeb'});
  
  

  minor.forEach(v => {
    const ln = make(g, 'line', {x1: xScale(v), x2: xScale(v), y1: cfg.top, y2: cfg.bottom, stroke: '#fff', 'stroke-width': 2.4});
    
    
  });
  major.forEach(v => {
    const ln = make(g, 'line', {x1: xScale(v), x2: xScale(v), y1: cfg.top, y2: cfg.bottom, stroke: '#fff', 'stroke-width': 4.5});
    
    
  });
  features.forEach((f, i) => {
    const ln = make(g, 'line', {x1: cfg.left, x2: cfg.right, y1: yScale(i), y2: yScale(i), stroke: '#fff', 'stroke-width': 4.5});
    
    
  });
  const zero = make(g, 'line', {x1: xScale(0), x2: xScale(0), y1: cfg.top, y2: cfg.bottom, stroke: '#a9a9a9', 'stroke-width': 4.5});
  
  

  features.forEach((f, i) => {
    rows[i].forEach(p => {
      const c = make(g, 'circle', {cx: xScale(p[0]), cy: yScale(i) - p[1] * band, r: 10.2, fill: featureColor(p[2])});
      
      
    });
    const tk = make(g, 'line', {x1: cfg.left - 12, x2: cfg.left, y1: yScale(i), y2: yScale(i), stroke: '#333', 'stroke-width': 4.6});
    
    
    const lb = make(g, 'text', {x: cfg.left - 21, y: yScale(i) + 13, 'text-anchor': 'end', 'font-size': 37, fill: '#4d4d4d'}, f);
    
    
  });
  major.forEach(v => {
    const tk = make(g, 'line', {x1: xScale(v), x2: xScale(v), y1: cfg.bottom, y2: cfg.bottom + 11, stroke: '#333', 'stroke-width': 4.6});
    
    
    const lb = make(g, 'text', {x: xScale(v), y: cfg.tickBaseline, 'text-anchor': 'middle', 'font-size': 37, fill: '#4d4d4d'}, tickText(v));
    
    
  });
  const title = make(g, 'text', {x: (cfg.left + cfg.right) / 2, y: cfg.titleBaseline, 'text-anchor': 'middle', 'font-size': 46.5, fill: '#111'}, 'SHAP value');
  
  

  const lg = make(g, 'g', {});
  
  
  const bar = make(lg, 'rect', {x: cfg.barX, y: cfg.barTop, width: 24, height: cfg.barBottom - cfg.barTop, fill: 'url(#legend-gradient)'});
  
  
  const hi = make(lg, 'text', {x: cfg.barX + 47, y: cfg.barTop + 11.5, 'font-size': 36, fill: '#111'}, 'High');
  
  
  const lo = make(lg, 'text', {x: cfg.barX + 47, y: cfg.barBottom + 14, 'font-size': 36, fill: '#111'}, 'Low');
  
  
  const lt = make(lg, 'text', {transform: 'translate(' + (cfg.barX - 22) + ',' + ((cfg.barTop + cfg.barBottom) / 2 - 2) + ') rotate(-90)', 'text-anchor': 'middle', 'font-size': 46, fill: '#111'}, 'Feature value');
  
  
}
drawPanel({name: 'panel-a', left: 170, right: 1259, top: 188, bottom: 1532, domain: [-.3891, .621], tickBaseline: 1579, titleBaseline: 1634, barX: 1349, barTop: 622, barBottom: 1098}, panelAFeatures, panelARows, panelAMajorTicks, panelAMinorTicks);
drawPanel({name: 'panel-b', left: 1880, right: 3525, top: 184, bottom: 1568, domain: [-.2591, .4379], tickBaseline: 1616, titleBaseline: 1669, barX: 3615, barTop: 638, barBottom: 1114}, panelBFeatures, panelBRows, panelBMajorTicks, panelBMinorTicks);
</script>
</body>
</html>
